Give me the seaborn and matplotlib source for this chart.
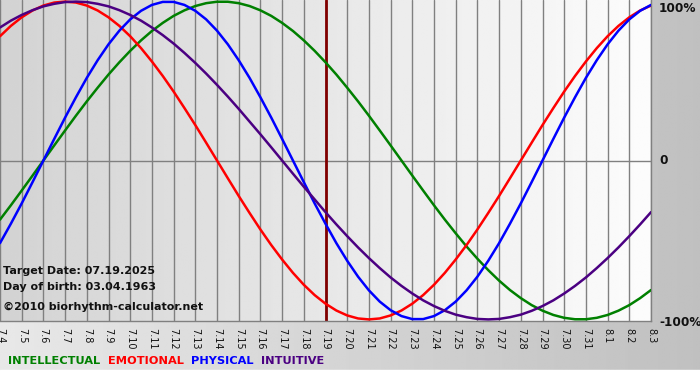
import numpy as np
import pandas as pd
import matplotlib
matplotlib.use("Agg")
import matplotlib.pyplot as plt
import seaborn as sns

# ---- data ----
days = ["7.4", "7.5", "7.6", "7.7", "7.8", "7.9", "7.10", "7.11", "7.12", "7.13",
        "7.14", "7.15", "7.16", "7.17", "7.18", "7.19", "7.20", "7.21", "7.22",
        "7.23", "7.24", "7.25", "7.26", "7.27", "7.28", "7.29", "7.30", "7.31",
        "8.1", "8.2", "8.3"]
# values sampled every half day, from 7.4 to 8.3
intellectual = [-0.372, -0.282, -0.189, -0.095, 0.000, 0.095, 0.189, 0.282, 0.372, 0.458,
                0.541, 0.618, 0.690, 0.756, 0.815, 0.866, 0.910, 0.945, 0.972, 0.990,
                0.999, 0.999, 0.990, 0.972, 0.945, 0.910, 0.866, 0.815, 0.756, 0.690,
                0.618, 0.541, 0.458, 0.372, 0.282, 0.189, 0.095, 0.000, -0.095, -0.189,
                -0.282, -0.372, -0.458, -0.541, -0.618, -0.690, -0.756, -0.815, -0.866, -0.910,
                -0.945, -0.972, -0.990, -0.999, -0.999, -0.990, -0.972, -0.945, -0.910, -0.866,
                -0.815]
emotional = [0.782, 0.847, 0.901, 0.944, 0.975, 0.994, 1.000, 0.994, 0.975, 0.944,
             0.901, 0.847, 0.782, 0.707, 0.623, 0.532, 0.434, 0.330, 0.223, 0.112,
             0.000, -0.112, -0.223, -0.330, -0.434, -0.532, -0.623, -0.707, -0.782, -0.847,
             -0.901, -0.944, -0.975, -0.994, -1.000, -0.994, -0.975, -0.944, -0.901, -0.847,
             -0.782, -0.707, -0.623, -0.532, -0.434, -0.330, -0.223, -0.112, 0.000, 0.112,
             0.223, 0.330, 0.434, 0.532, 0.623, 0.707, 0.782, 0.847, 0.901, 0.944,
             0.975]
physical = [-0.520, -0.398, -0.270, -0.136, 0.000, 0.136, 0.270, 0.398, 0.520, 0.631,
            0.731, 0.817, 0.888, 0.942, 0.979, 0.998, 0.998, 0.979, 0.942, 0.888,
            0.817, 0.731, 0.631, 0.520, 0.398, 0.270, 0.136, 0.000, -0.136, -0.270,
            -0.398, -0.520, -0.631, -0.731, -0.817, -0.888, -0.942, -0.979, -0.998, -0.998,
            -0.979, -0.942, -0.888, -0.817, -0.731, -0.631, -0.520, -0.398, -0.270, -0.136,
            0.000, 0.136, 0.270, 0.398, 0.520, 0.631, 0.731, 0.817, 0.888, 0.942,
            0.979]
intuitive = [0.837, 0.880, 0.916, 0.946, 0.970, 0.986, 0.997, 1.000, 0.997, 0.986,
             0.970, 0.946, 0.916, 0.880, 0.837, 0.789, 0.736, 0.677, 0.614, 0.547,
             0.476, 0.402, 0.325, 0.245, 0.165, 0.083, 0.000, -0.083, -0.165, -0.245,
             -0.325, -0.402, -0.476, -0.547, -0.614, -0.677, -0.736, -0.789, -0.837, -0.880,
             -0.916, -0.946, -0.970, -0.986, -0.997, -1.000, -0.997, -0.986, -0.970, -0.946,
             -0.916, -0.880, -0.837, -0.789, -0.736, -0.677, -0.614, -0.547, -0.476, -0.402,
             -0.325]
target_label = "7.19"
series_names = ["INTELLECTUAL", "EMOTIONAL", "PHYSICAL", "INTUITIVE"]
colors = {"INTELLECTUAL": "#008000", "EMOTIONAL": "#ff0000",
          "PHYSICAL": "#0000ff", "INTUITIVE": "#4b0082"}
y_labels = ["100%", "0", "-100%"]
info_lines = ["Target Date: 07.19.2025", "Day of birth: 03.04.1963",
              "\u00a92010 biorhythm-calculator.net"]

sns.set_style("white")
plt.rcParams['font.family'] = ['DejaVu Sans']

idx = np.arange(len(days))
pos = np.arange(len(physical)) / 2.0
df = pd.concat([
    pd.DataFrame({"day": pos, "value": vals, "rhythm": name})
    for name, vals in zip(series_names, [intellectual, emotional, physical, intuitive])
], ignore_index=True)

W, H = 700, 380
fig = plt.figure(figsize=(W / 100, H / 100), dpi=100)

# figure background gradient
bg = fig.add_axes([0, 0, 1, 1])
grad = np.linspace(232, 192, 256) / 255
bg.imshow(np.tile(grad, (2, 1)), cmap="gray", vmin=0, vmax=1, aspect="auto",
          extent=[0, 1, 0, 1], interpolation="bilinear")
bg.axhspan(0, 10 / H, color="white")
bg.set_xlim(0, 1); bg.set_ylim(0, 1)
bg.set_axis_off()

ax = fig.add_axes([0, 59 / H, 651 / W, 321 / H])
ax.set_xlim(0, len(days) - 1)
ax.set_ylim(-1.01, 1.01)
grad2 = np.linspace(211, 252, 256) / 255
ax.imshow(np.tile(grad2, (2, 1)), cmap="gray", vmin=0, vmax=1, aspect="auto",
          extent=[0, len(days) - 1, -1.01, 1.01], interpolation="bilinear", zorder=0)

ax.set_xticks(idx)
ax.set_xticklabels(days, rotation=-90, fontsize=7, color="#111111")
ax.set_yticks([])
ax.tick_params(axis="x", length=4, color="#808080", pad=1, width=1)
ax.grid(axis="x", color="#808080", lw=1, zorder=1)
ax.axhline(0, color="#808080", lw=1, zorder=1)
ax.axvline(days.index(target_label), color="#800000", lw=2, zorder=2)

sns.lineplot(data=df, x="day", y="value", hue="rhythm", palette=colors,
             linewidth=1.8, legend=False, ax=ax, zorder=3)
ax.set_xlabel(""); ax.set_ylabel("")
for s in ["top", "left"]:
    ax.spines[s].set_visible(False)
for s in ["bottom", "right"]:
    ax.spines[s].set_color("#808080")
    ax.spines[s].set_linewidth(1)

# right labels
for lab, ypx in zip(y_labels, [8, 161, 322]):
    fig.text(659 / W, 1 - ypx / H, lab, va="center", ha="left",
             fontsize=8.7, weight="bold", color="#111111")

# info text
for line, ypx in zip(info_lines, [271, 287, 307]):
    fig.text(3 / W, 1 - ypx / H, line, va="center", ha="left",
             fontsize=8, weight="bold", color="#111111")

# legend text
prev = fig.text(8 / W, 1 - 361 / H, series_names[0], va="center", ha="left",
                fontsize=8.2, weight="bold", color=colors[series_names[0]])
for name in series_names[1:]:
    prev = ax.annotate(name, xy=(1, 0.5), xycoords=prev, xytext=(5.5, 0),
                       textcoords="offset points", va="center", ha="left",
                       fontsize=8.2, weight="bold", color=colors[name],
                       annotation_clip=False)

fig.savefig("out.png", dpi=100)
